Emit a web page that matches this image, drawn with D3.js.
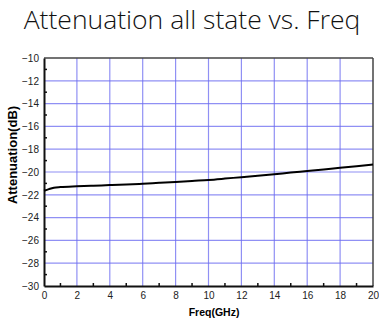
<!DOCTYPE html>
<html>
<head>
<meta charset="utf-8">
<script src="https://cdn.jsdelivr.net/npm/d3@7"></script>
<style>
  body { margin: 0; background: #fff; }
  svg { display: block; }
  .tick text { font-family: "Liberation Sans", Arial, sans-serif; font-size: 10px; fill: #222; }
</style>
</head>
<body>
<div id="chart"></div>
<script>
var svgWidth = 379;
var svgHeight = 319;

var margin = { top: 58, right: 6, bottom: 33, left: 44 };
var width = svgWidth - margin.left - margin.right;
var height = svgHeight - margin.top - margin.bottom;

// data
var freq = [0, 0.3, 0.6, 1, 2, 3, 4, 5, 6, 7, 8, 9, 10, 11, 12, 13, 14, 15, 16, 17, 18, 19, 20];
var atten = [-21.65, -21.5, -21.38, -21.32, -21.25, -21.2, -21.15, -21.1, -21.03, -20.95, -20.87, -20.78,
             -20.7, -20.58, -20.45, -20.33, -20.2, -20.05, -19.92, -19.78, -19.63, -19.5, -19.35];
var xTicks = [0, 2, 4, 6, 8, 10, 12, 14, 16, 18, 20];
var yTicks = [-30, -28, -26, -24, -22, -20, -18, -16, -14, -12, -10];
var xMinor = [1, 3, 5, 7, 9, 11, 13, 15, 17, 19];
var yMinor = [-29, -27, -25, -23, -21, -19, -17, -15, -13, -11];

var svg = d3.select("#chart")
  .append("svg")
  .attr("width", svgWidth)
  .attr("height", svgHeight);

// title
svg.append("text")
  .attr("x", 192)
  .attr("y", 29)
  .attr("text-anchor", "middle")
  .attr("font-family", "'Open Sans', 'Noto Sans', sans-serif")
  .attr("font-weight", 300)
  .attr("font-size", "26.5px")
  .attr("fill", "#111")
  .text("Attenuation all state vs. Freq");

var chartGroup = svg.append("g")
  .attr("transform", `translate(${margin.left}, ${margin.top})`);

var x = d3.scaleLinear().domain([0, 20]).range([0, width]);
var y = d3.scaleLinear().domain([-30, -10]).range([height, 0]);

// grid
chartGroup.append("g")
  .selectAll("line")
  .data(xTicks.slice(1, -1))
  .enter()
  .append("line")
  .attr("x1", d => x(d)).attr("x2", d => x(d))
  .attr("y1", 0).attr("y2", height)
  .attr("stroke", "#6b6bf0")
  .attr("stroke-opacity", 0.75)
  .attr("stroke-width", 1.2);

chartGroup.append("g")
  .selectAll("line")
  .data(yTicks.slice(1, -1))
  .enter()
  .append("line")
  .attr("x1", 0).attr("x2", width)
  .attr("y1", d => y(d)).attr("y2", d => y(d))
  .attr("stroke", "#6b6bf0")
  .attr("stroke-opacity", 0.75)
  .attr("stroke-width", 1.2);

// top and right frame
chartGroup.append("line")
  .attr("x1", 0).attr("x2", width).attr("y1", 0).attr("y2", 0)
  .attr("stroke", "#444").attr("stroke-width", 1.5);
chartGroup.append("line")
  .attr("x1", width).attr("x2", width).attr("y1", 0).attr("y2", height)
  .attr("stroke", "#444").attr("stroke-width", 1.5);

// axes
var xAxis = chartGroup.append("g")
  .attr("transform", `translate(0, ${height})`)
  .call(d3.axisBottom(x).tickValues(xTicks).tickSize(0).tickPadding(6).tickFormat(d3.format("d")));
xAxis.select(".domain").attr("stroke", "#111").attr("stroke-width", 2);

var yAxis = chartGroup.append("g")
  .call(d3.axisLeft(y).tickValues(yTicks).tickSize(0).tickPadding(5).tickFormat(d3.format("d")));
yAxis.select(".domain").attr("stroke", "#111").attr("stroke-width", 2);

// minor ticks pointing inward
chartGroup.append("g")
  .selectAll("line")
  .data(xMinor)
  .enter()
  .append("line")
  .attr("x1", d => x(d)).attr("x2", d => x(d))
  .attr("y1", height).attr("y2", height - 3)
  .attr("stroke", "#111").attr("stroke-width", 1.5);

chartGroup.append("g")
  .selectAll("line")
  .data(yMinor)
  .enter()
  .append("line")
  .attr("x1", 0).attr("x2", 3)
  .attr("y1", d => y(d)).attr("y2", d => y(d))
  .attr("stroke", "#111").attr("stroke-width", 1.5);

// curve
var line = d3.line()
  .x((d, i) => x(freq[i]))
  .y(d => y(d))
  .curve(d3.curveMonotoneX);

chartGroup.append("path")
  .datum(atten)
  .attr("d", line)
  .attr("fill", "none")
  .attr("stroke", "#000")
  .attr("stroke-width", 2);

// axis labels
svg.append("text")
  .attr("transform", "translate(17, 155) rotate(-90)")
  .attr("text-anchor", "middle")
  .attr("font-family", "'Liberation Sans', Arial, sans-serif")
  .attr("font-weight", "bold")
  .attr("font-size", "13px")
  .text("Attenuation(dB)");

svg.append("text")
  .attr("x", 214)
  .attr("y", 316)
  .attr("text-anchor", "middle")
  .attr("font-family", "'Liberation Sans', Arial, sans-serif")
  .attr("font-weight", "bold")
  .attr("font-size", "10.5px")
  .text("Freq(GHz)");
</script>
</body>
</html>
